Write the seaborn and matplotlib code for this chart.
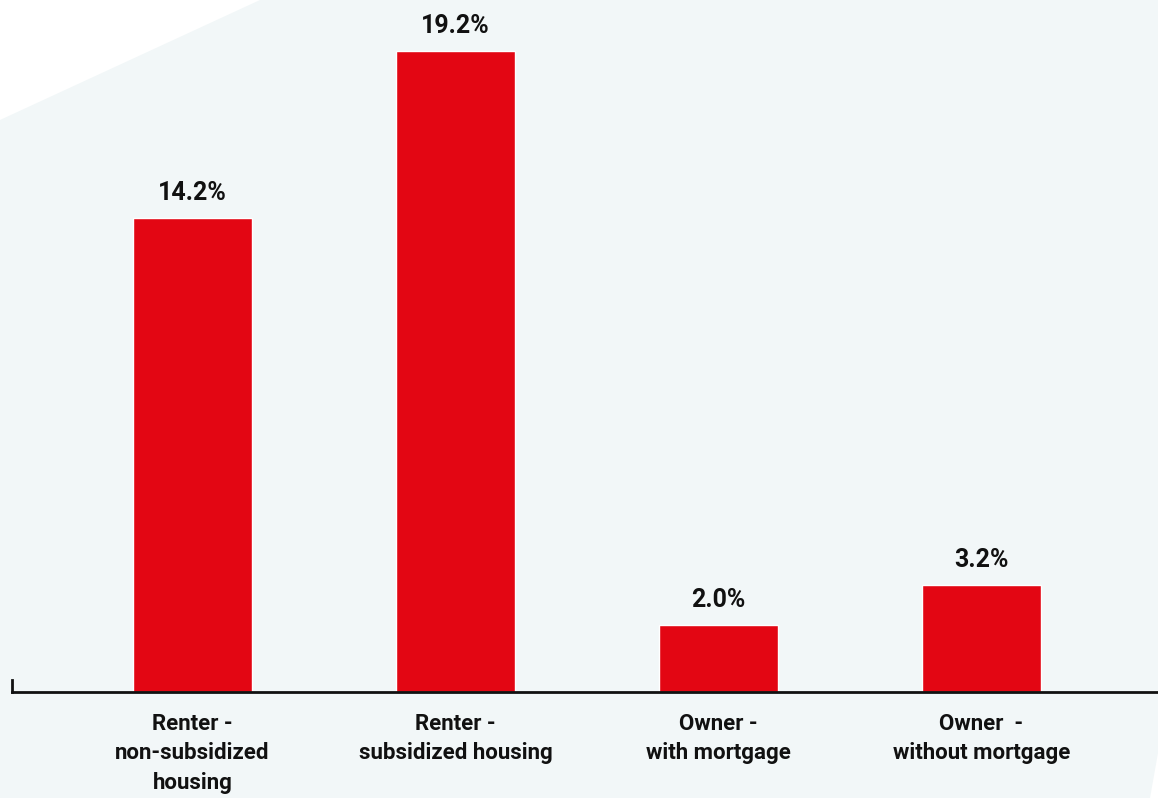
import matplotlib.pyplot as plt
import seaborn as sns
import pandas as pd
from matplotlib.patches import Polygon
from matplotlib import font_manager

categories = ["Renter -\nnon-subsidized\nhousing", "Renter -\nsubsidized housing",
              "Owner -\nwith mortgage", "Owner  -\nwithout mortgage"]
values = [14.2, 19.2, 2.0, 3.2]
value_labels = ["14.2%", "19.2%", "2.0%", "3.2%"]

RED = "#e30613"
BG = "#f2f7f8"

sns.set_theme(style="white")
names = {f.name for f in font_manager.fontManager.ttflist}
fam = [n for n in ["Liberation Sans Narrow", "Roboto", "DejaVu Sans"] if n in names]
plt.rcParams["font.family"] = fam

W, H = 1158, 798
fig = plt.figure(figsize=(W / 100, H / 100), dpi=100)
fig.patch.set_facecolor("white")

# light background shape with cut corners
pts = [(0, 120), (260, 0), (1158, 0), (1158, 753), (1150, 798), (0, 798)]
poly = Polygon([(x / W, 1 - y / H) for x, y in pts], closed=True,
               transform=fig.transFigure, facecolor=BG, edgecolor="none", zorder=-10)
fig.patches.append(poly)

ax = fig.add_axes([12 / W, (H - 692) / H, 1146 / W, 692 / H])
ax.patch.set_alpha(0)

df = pd.DataFrame({"category": categories, "value": values})
sns.barplot(data=df, x="category", y="value", color=RED, saturation=1,
            width=0.452, ax=ax)

for i, (v, lab) in enumerate(zip(values, value_labels)):
    ax.annotate(lab, (i, v), xytext=(0, 25), textcoords="offset pixels",
                ha="center", va="center", fontsize=18, fontweight="bold", color="#111111")

ax.set_xlim(-0.686, 3.671)
ax.set_ylim(0, 20.72)
ax.set_xlabel("")
ax.set_ylabel("")
ax.set_yticks([])
ax.tick_params(axis="x", length=0, pad=15, labelsize=16)
for t in ax.get_xticklabels():
    t.set_fontweight("bold")
    t.set_color("#111111")
    t.set_linespacing(1.45)

for s in ["top", "right"]:
    ax.spines[s].set_visible(False)
ax.spines["bottom"].set_color("#111111")
ax.spines["bottom"].set_linewidth(2)
ax.spines["left"].set_color("#111111")
ax.spines["left"].set_linewidth(2)
ax.spines["left"].set_bounds(0, 0.36)

fig.savefig("out.png", dpi=100)
